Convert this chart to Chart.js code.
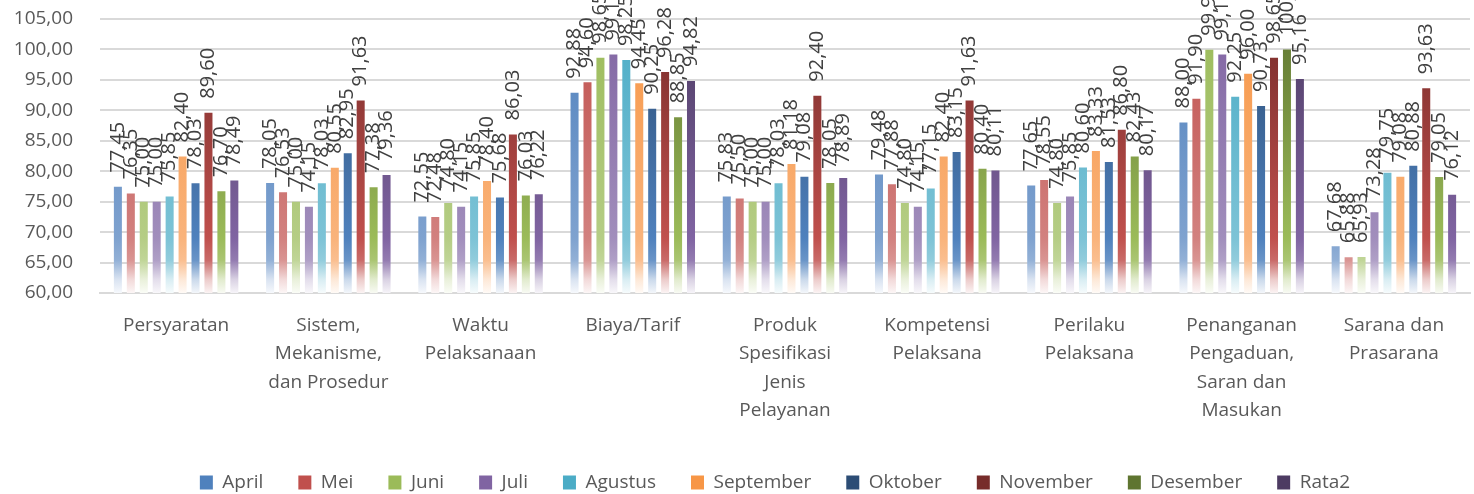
<!DOCTYPE html>
<html>
<head>
<meta charset="utf-8">
<script src="https://cdn.jsdelivr.net/npm/chart.js@4"></script>
<style>
  html, body { margin: 0; padding: 0; background: #fff; }
  #wrap { width: 1474px; height: 494px; position: relative; }
</style>
</head>
<body>
<div id="wrap"><canvas id="chart"></canvas></div>
<script>
// kategori penilaian (label sumbu x, dipecah per baris)
var categories = [
  ['Persyaratan'],
  ['Sistem,', 'Mekanisme,', 'dan Prosedur'],
  ['Waktu', 'Pelaksanaan'],
  ['Biaya/Tarif'],
  ['Produk', 'Spesifikasi', 'Jenis', 'Pelayanan'],
  ['Kompetensi', 'Pelaksana'],
  ['Perilaku', 'Pelaksana'],
  ['Penanganan', 'Pengaduan,', 'Saran dan', 'Masukan'],
  ['Sarana dan', 'Prasarana']
];

var april     = [77.45, 78.05, 72.55, 92.88, 75.83, 79.48, 77.65, 88.00, 67.68];
var mei       = [76.35, 76.53, 72.48, 94.60, 75.50, 77.88, 78.55, 91.90, 65.88];
var juni      = [75.00, 75.00, 74.80, 98.65, 75.00, 74.80, 74.80, 99.95, 65.93];
var juli      = [75.00, 74.15, 74.15, 99.15, 75.00, 74.15, 75.85, 99.15, 73.28];
var agustus   = [75.85, 78.03, 75.85, 98.25, 78.03, 77.15, 80.60, 92.25, 79.75];
var september = [82.40, 80.55, 78.40, 94.45, 81.18, 82.40, 83.33, 96.00, 79.08];
var oktober   = [78.03, 82.95, 75.68, 90.25, 79.08, 83.15, 81.53, 90.73, 80.88];
var november  = [89.60, 91.63, 86.03, 96.28, 92.40, 91.63, 86.80, 98.65, 93.63];
var desember  = [76.70, 77.38, 76.03, 88.85, 78.05, 80.40, 82.43, 100.00, 79.05];
var rata2     = [78.49, 79.36, 76.22, 94.82, 78.89, 80.11, 80.17, 95.16, 76.12];

var yTicks = [60, 65, 70, 75, 80, 85, 90, 95, 100, 105];

var textColor = '#595959';
var fontFamily = "'Open Sans', 'Noto Sans', sans-serif";

// [label, data, warna atas, warna tengah]
var seriesDef = [
  ['April', april, '#4F81BD', '#7FA2CF'],
  ['Mei', mei, '#C0504D', '#D2817F'],
  ['Juni', juni, '#9BBB59', '#B5CD85'],
  ['Juli', juli, '#8064A2', '#A18EBC'],
  ['Agustus', agustus, '#4BACC6', '#7DC3D6'],
  ['September', september, '#F79646', '#F9B37B'],
  ['Oktober', oktober, '#2C4D75', '#4F81BD'],
  ['November', november, '#772C2A', '#C0504D'],
  ['Desember', desember, '#5F7530', '#9BBB59'],
  ['Rata2', rata2, '#4D3B62', '#8064A2']
];

function hexToRgb(h) {
  h = h.replace('#', '');
  return [parseInt(h.substr(0, 2), 16), parseInt(h.substr(2, 2), 16), parseInt(h.substr(4, 2), 16)];
}

function mixWhite(hex, t) {
  var c = hexToRgb(hex);
  return 'rgb(' + c.map(function (v) { return Math.round(v + (255 - v) * t); }).join(',') + ')';
}

var gradCache = {};

function barGradient(top, mid) {
  return function (context) {
    var chart = context.chart;
    var area = chart.chartArea;
    if (!area) {
      return top;
    }
    var key = top + area.top + '_' + area.bottom;
    if (!gradCache[key]) {
      var g = chart.ctx.createLinearGradient(0, area.bottom, 0, area.top);
      g.addColorStop(0, mixWhite(mid, 0.93));
      g.addColorStop(0.05, mixWhite(mid, 0.7));
      g.addColorStop(0.12, mixWhite(mid, 0.15));
      g.addColorStop(0.2, mid);
      g.addColorStop(1, top);
      gradCache[key] = g;
    }
    return gradCache[key];
  };
}

function fmt(v) {
  return v.toFixed(2).replace('.', ',');
}

// label nilai diputar vertikal di atas batang
var valueLabels = {
  id: 'valueLabels',
  afterDatasetsDraw: function (chart) {
    var ctx = chart.ctx;
    ctx.save();
    ctx.font = '20px ' + fontFamily;
    ctx.fillStyle = '#404040';
    ctx.textAlign = 'left';
    ctx.textBaseline = 'middle';
    chart.data.datasets.forEach(function (ds, i) {
      var meta = chart.getDatasetMeta(i);
      meta.data.forEach(function (bar, j) {
        ctx.save();
        ctx.translate(bar.x, bar.y - 14);
        ctx.rotate(-Math.PI / 2);
        ctx.fillText(fmt(ds.data[j]), 0, 0);
        ctx.restore();
      });
    });
    ctx.restore();
  }
};

// legenda di referensi sedikit bergeser ke kanan
var legendShift = {
  id: 'legendShift',
  afterLayout: function (chart) {
    if (chart.legend) {
      chart.legend.left += 40;
      chart.legend.right += 40;
    }
  }
};

var datasets = seriesDef.map(function (s) {
  return {
    label: s[0],
    data: s[1],
    backgroundColor: barGradient(s[2], s[3]),
    baseColor: s[2],
    borderWidth: 0
  };
});

new Chart(document.getElementById('chart'), {
  type: 'bar',
  data: {
    labels: categories,
    datasets: datasets
  },
  plugins: [valueLabels, legendShift],
  options: {
    responsive: true,
    maintainAspectRatio: false,
    animation: false,
    layout: {
      padding: { top: 19, right: 4, left: 0, bottom: -8 }
    },
    datasets: {
      bar: {
        categoryPercentage: 0.85,
        barPercentage: 0.62
      }
    },
    plugins: {
      tooltip: { enabled: false },
      legend: {
        position: 'bottom',
        labels: {
          color: textColor,
          font: { family: fontFamily, size: 19 },
          boxWidth: 13,
          boxHeight: 14,
          padding: 35,
          generateLabels: function (chart) {
            return chart.data.datasets.map(function (ds, i) {
              return {
                text: ds.label,
                fillStyle: ds.baseColor,
                strokeStyle: ds.baseColor,
                lineWidth: 0,
                fontColor: textColor,
                datasetIndex: i
              };
            });
          }
        }
      }
    },
    scales: {
      x: {
        grid: { display: false },
        border: { color: '#D9D9D9', width: 2 },
        afterFit: function (axis) {
          axis.height += 3;
        },
        ticks: {
          color: textColor,
          font: { family: fontFamily, size: 19, lineHeight: 1.5 },
          maxRotation: 0,
          autoSkip: false,
          padding: 10
        }
      },
      y: {
        min: 60,
        max: 105,
        afterBuildTicks: function (axis) {
          axis.ticks = yTicks.map(function (v) { return { value: v }; });
        },
        afterFit: function (axis) {
          axis.width = 100;
        },
        grid: {
          color: '#D9D9D9',
          lineWidth: 2,
          drawTicks: true,
          tickLength: 24,
          tickColor: 'rgba(0,0,0,0)'
        },
        border: { display: false },
        ticks: {
          color: textColor,
          font: { family: fontFamily, size: 19 },
          padding: 3,
          callback: function (v) { return fmt(v); }
        }
      }
    }
  }
});
</script>
</body>
</html>
